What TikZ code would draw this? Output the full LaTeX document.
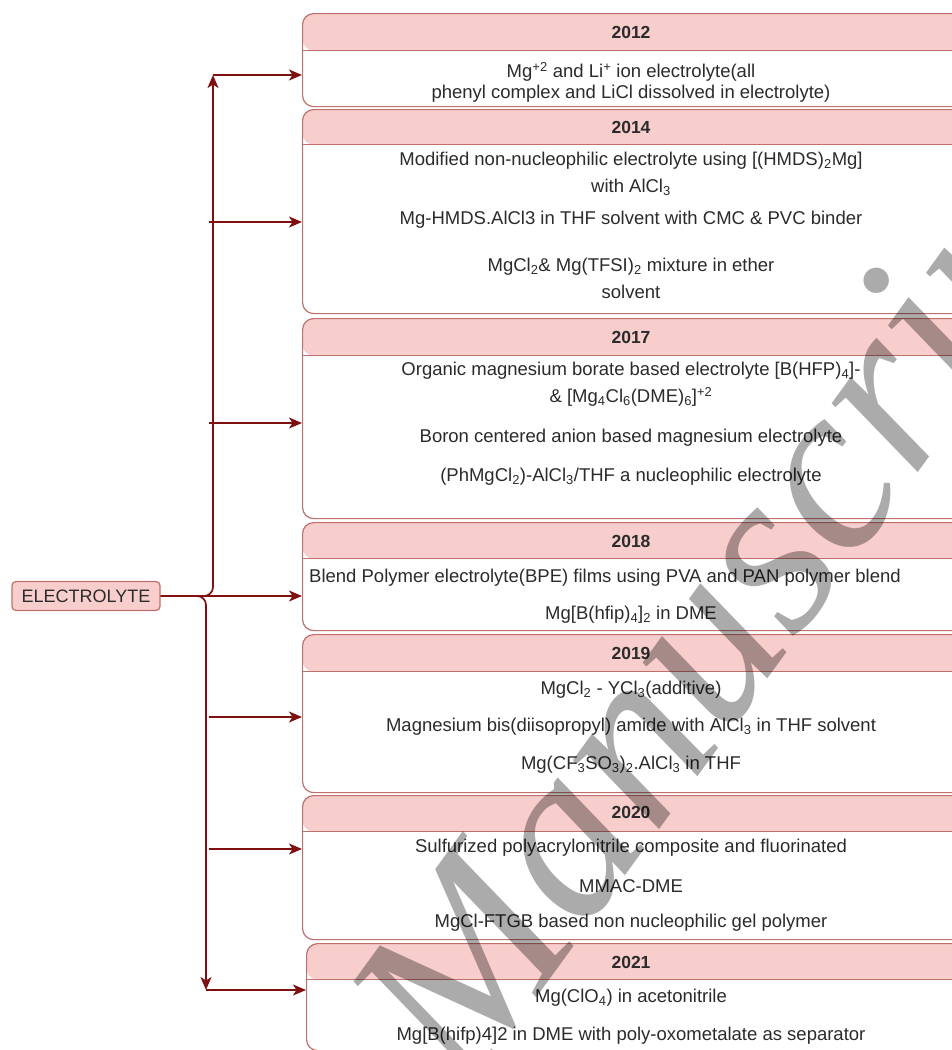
\documentclass[tikz,border=0pt]{standalone}
\usepackage{fontspec}
\setmainfont{Liberation Sans}
\newfontfamily\wmfont{Liberation Serif}
\usetikzlibrary{arrows.meta,calc}
\definecolor{hdrfill}{HTML}{F8CECC}
\definecolor{boxline}{HTML}{C0706C}
\definecolor{wire}{RGB}{128,16,16}
\definecolor{ink}{HTML}{2B2B2B}
\begin{document}
\begin{tikzpicture}[x=1pt,y=-1pt,
  yearbox/.style={draw=boxline, line width=1.2pt, fill=white, rounded corners=11pt,
    minimum width=663pt, anchor=north west, inner sep=0pt,
    path picture={
      \fill[hdrfill] (path picture bounding box.north west) rectangle
        ([yshift=-#1pt]path picture bounding box.north east);
      \draw[boxline, line width=1.2pt] ([yshift=-#1pt]path picture bounding box.north west) --
        ([yshift=-#1pt]path picture bounding box.north east);}},
  yeartxt/.style={font=\fontsize{17.5}{20}\selectfont\bfseries, text=ink, inner sep=0pt},
  body/.style={font=\fontsize{18.5}{21}\selectfont, text=ink, inner sep=0pt},
  rootbox/.style={draw=boxline, line width=1.2pt, fill=hdrfill, rounded corners=4pt,
    font=\fontsize{18}{20}\selectfont, text=ink, minimum width=148pt, minimum height=29pt, inner sep=0pt},
  conn/.style={draw=wire, line width=1.7pt, -{Stealth[length=13pt,width=11pt,inset=3.5pt]}},
  watermark/.style={font=\wmfont\itshape\fontsize{240}{240}\selectfont, text=black, opacity=0.33,
    inner sep=0pt}
]
\useasboundingbox (0,0) rectangle (952,1050);

% year boxes with pink title strips
\node[yearbox=37, minimum height=93pt]  (b2012) at (302,13)  {};
\node[yearbox=35, minimum height=204pt] (b2014) at (302,109) {};
\node[yearbox=37, minimum height=200pt] (b2017) at (302,318) {};
\node[yearbox=36, minimum height=108pt] (b2018) at (302,522) {};
\node[yearbox=37, minimum height=158pt] (b2019) at (302,634) {};
\node[yearbox=36, minimum height=144pt] (b2020) at (302,795) {};
\node[yearbox=36, minimum height=107pt] (b2021) at (306,943) {};

% root
\node[rootbox] (elec) at (86,596) {ELECTROLYTE};

% titles
\node[yeartxt] (y2012) at (631,32)  {2012};
\node[yeartxt] (y2014) at (631,127) {2014};
\node[yeartxt] (y2017) at (631,337) {2017};
\node[yeartxt] (y2018) at (631,541) {2018};
\node[yeartxt] (y2019) at (631,653) {2019};
\node[yeartxt] (y2020) at (631,812) {2020};
\node[yeartxt] (y2021) at (631,962) {2021};

% entries
\node[body] (e12a) at (631,72) {Mg\textsuperscript{+2} and Li\textsuperscript{+} ion electrolyte(all};
\node[body] (e12b) at (631,94) {phenyl complex and LiCl dissolved in electrolyte)};

\node[body] (e14a) at (631,161) {Modified non-nucleophilic electrolyte using [(HMDS)\textsubscript{2}Mg]};
\node[body] (e14b) at (631,187) {with AlCl\textsubscript{3}};
\node[body] (e14c) at (631,220) {Mg-HMDS.AlCl3 in THF solvent with CMC \& PVC binder};
\node[body] (e14d) at (631,267) {MgCl\textsubscript{2}\& Mg(TFSI)\textsubscript{2} mixture in ether};
\node[body] (e14e) at (631,292) {solvent};

\node[body] (e17a) at (631,371) {Organic magnesium borate based electrolyte [B(HFP)\textsubscript{4}]-};
\node[body] (e17b) at (631,397) {\& [Mg\textsubscript{4}Cl\textsubscript{6}(DME)\textsubscript{6}]\textsuperscript{+2}};
\node[body] (e17c) at (631,438) {Boron centered anion based magnesium electrolyte};
\node[body] (e17d) at (631,477) {(PhMgCl\textsubscript{2})-AlCl\textsubscript{3}/THF a nucleophilic electrolyte};

\node[body, anchor=west] (e18a) at (309,578) {Blend Polymer electrolyte(BPE) films using PVA and PAN polymer blend};
\node[body] (e18b) at (631,615) {Mg[B(hfip)\textsubscript{4}]\textsubscript{2} in DME};

\node[body] (e19a) at (631,690) {MgCl\textsubscript{2} - YCl\textsubscript{3}(additive)};
\node[body] (e19b) at (631,727) {Magnesium bis(diisopropyl) amide with AlCl\textsubscript{3} in THF solvent};
\node[body] (e19c) at (631,765) {Mg(CF\textsubscript{3}SO\textsubscript{3})\textsubscript{2}.AlCl\textsubscript{3} in THF};

\node[body] (e20a) at (631,848) {Sulfurized polyacrylonitrile composite and fluorinated};
\node[body] (e20b) at (631,886) {MMAC-DME};
\node[body] (e20c) at (631,923) {MgCl-FTGB based non nucleophilic gel polymer};

\node[body] (e21a) at (631,998) {Mg(ClO\textsubscript{4}) in acetonitrile};
\node[body] (e21b) at (631,1036) {Mg[B(hifp)4]2 in DME with poly-oxometalate as separator};

% trunk ends and branch points
\coordinate (top)  at (213,75);
\coordinate (bot)  at (206,990);
\coordinate (t14)  at (209,222);
\coordinate (t17)  at (209,423);
\coordinate (t19)  at (209,717);
\coordinate (t20)  at (209,849);

% connectors
\draw[conn, rounded corners=9pt] (elec.east) -| (top);
\draw[conn, rounded corners=9pt] (elec.east) -| (bot);
\draw[conn] (elec.east) -- (elec.east -| b2018.west);
\draw[conn] (top) -- (top -| b2012.west);
\draw[conn] (t14) -- (t14 -| b2014.west);
\draw[conn] (t17) -- (t17 -| b2017.west);
\draw[conn] (t19) -- (t19 -| b2019.west);
\draw[conn] (t20) -- (t20 -| b2020.west);
\draw[conn] (bot) -- (bot -| b2021.west);

% diagonal watermark
\node[watermark, rotate=54, anchor=base west] (wm) at (466,1095) {Manuscript};
\end{tikzpicture}
\end{document}
